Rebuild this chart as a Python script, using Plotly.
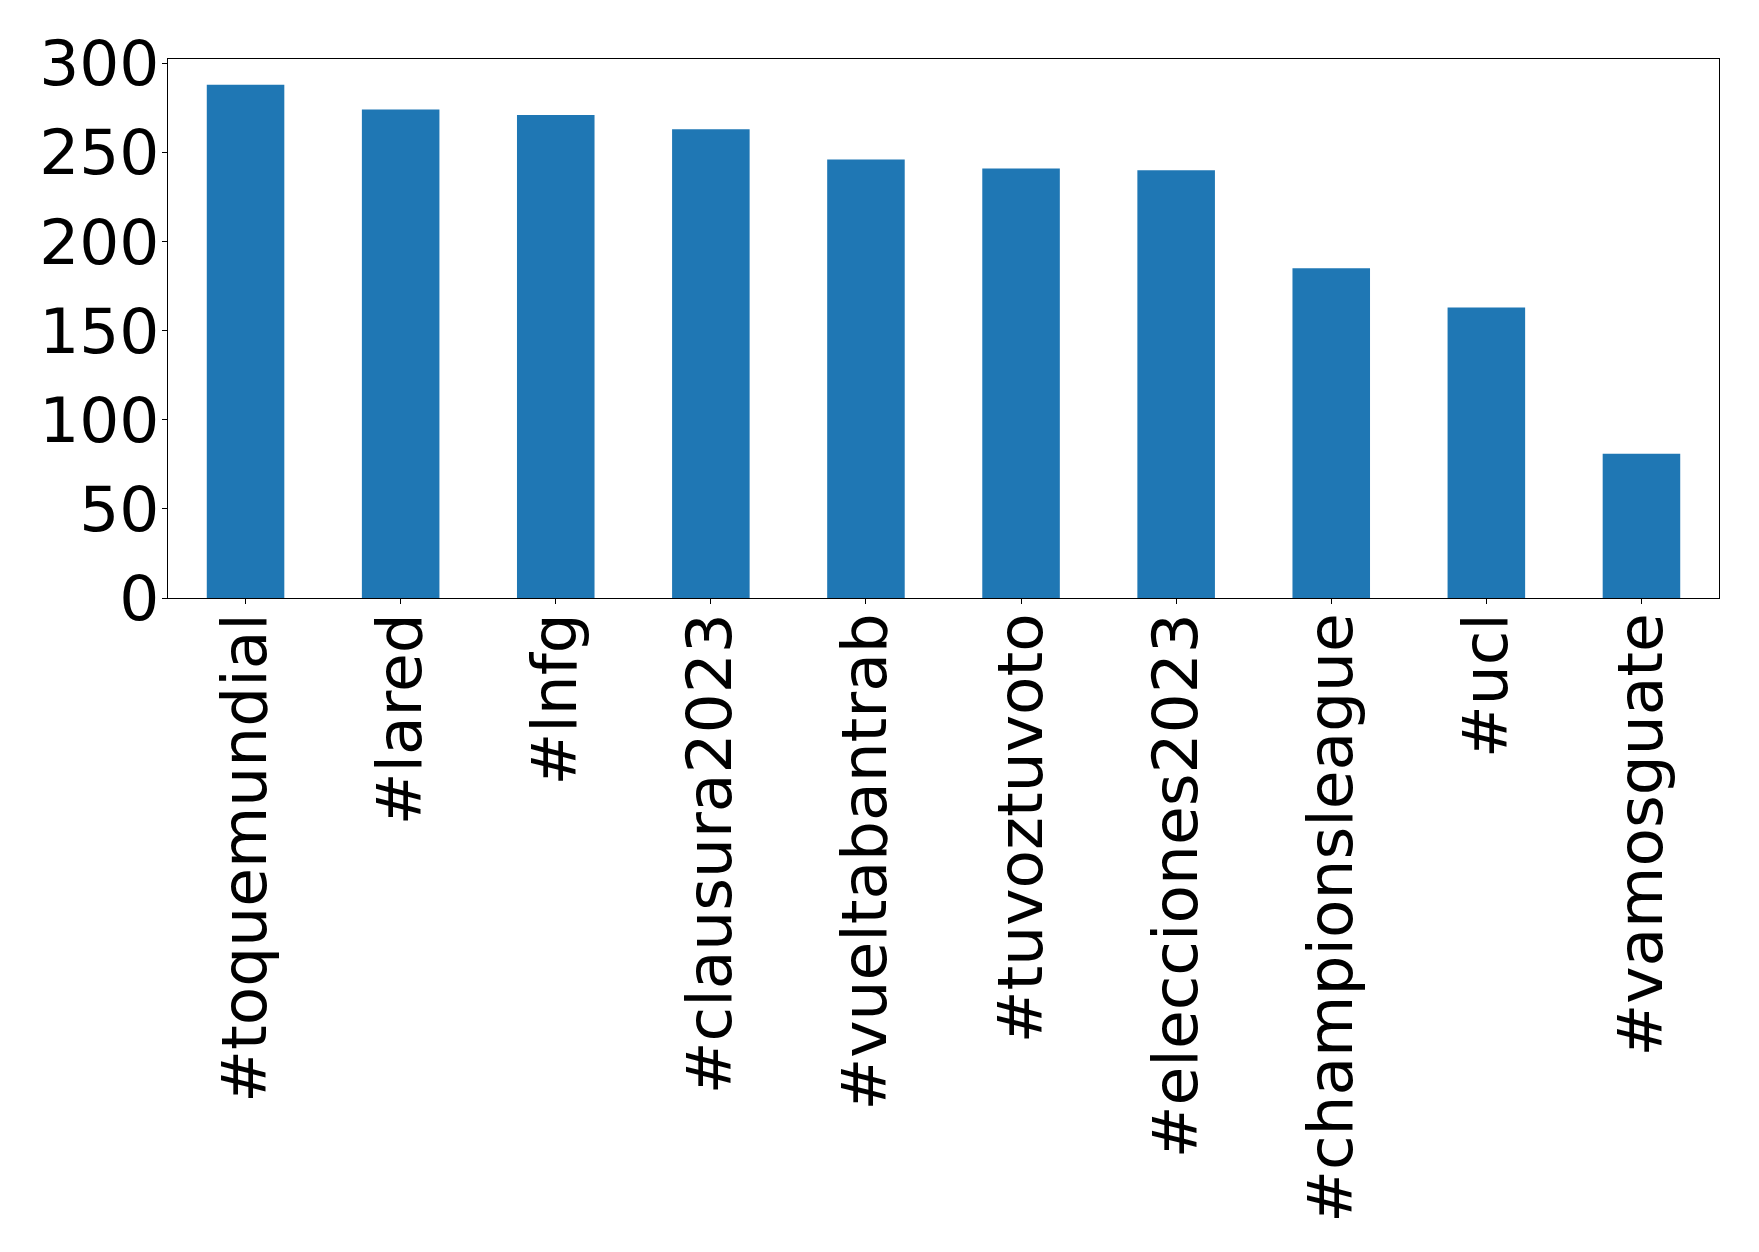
import plotly.graph_objects as go

categories = ["#toquemundial", "#lared", "#lnfg", "#clausura2023", "#vueltabantrab",
              "#tuvoztuvoto", "#elecciones2023", "#championsleague", "#ucl", "#vamosguate"]
values = [288, 274, 271, 263, 246, 241, 240, 185, 163, 81]
y_ticks = [0, 50, 100, 150, 200, 250, 300]

fig = go.Figure()
fig.add_trace(go.Bar(x=categories, y=values, marker=dict(color="#1f77b4", line=dict(width=0)), width=0.5))

font = dict(family="DejaVu Sans", size=63, color="black")
fig.update_layout(
    width=1743, height=1236,
    margin=dict(l=160, r=32, t=51, b=646),
    paper_bgcolor="white", plot_bgcolor="white",
    showlegend=False,
    font=font,
)
fig.update_xaxes(
    range=[-0.5, 9.5], tickangle=-90, tickfont=font,
    showline=True, mirror=True, linecolor="black", linewidth=1,
    ticks="outside", ticklen=5, tickcolor="black", tickwidth=1,
    ticklabelstandoff=-16,
    showgrid=False, zeroline=False,
)
fig.update_yaxes(
    range=[0, 302.4], tickvals=y_ticks, ticktext=[str(v) for v in y_ticks], tickfont=font,
    showline=True, mirror=True, linecolor="black", linewidth=1,
    ticks="outside", ticklen=5, tickcolor="black", tickwidth=1,
    ticklabelstandoff=-10,
    showgrid=False, zeroline=False,
)
fig.write_html("out.html")
